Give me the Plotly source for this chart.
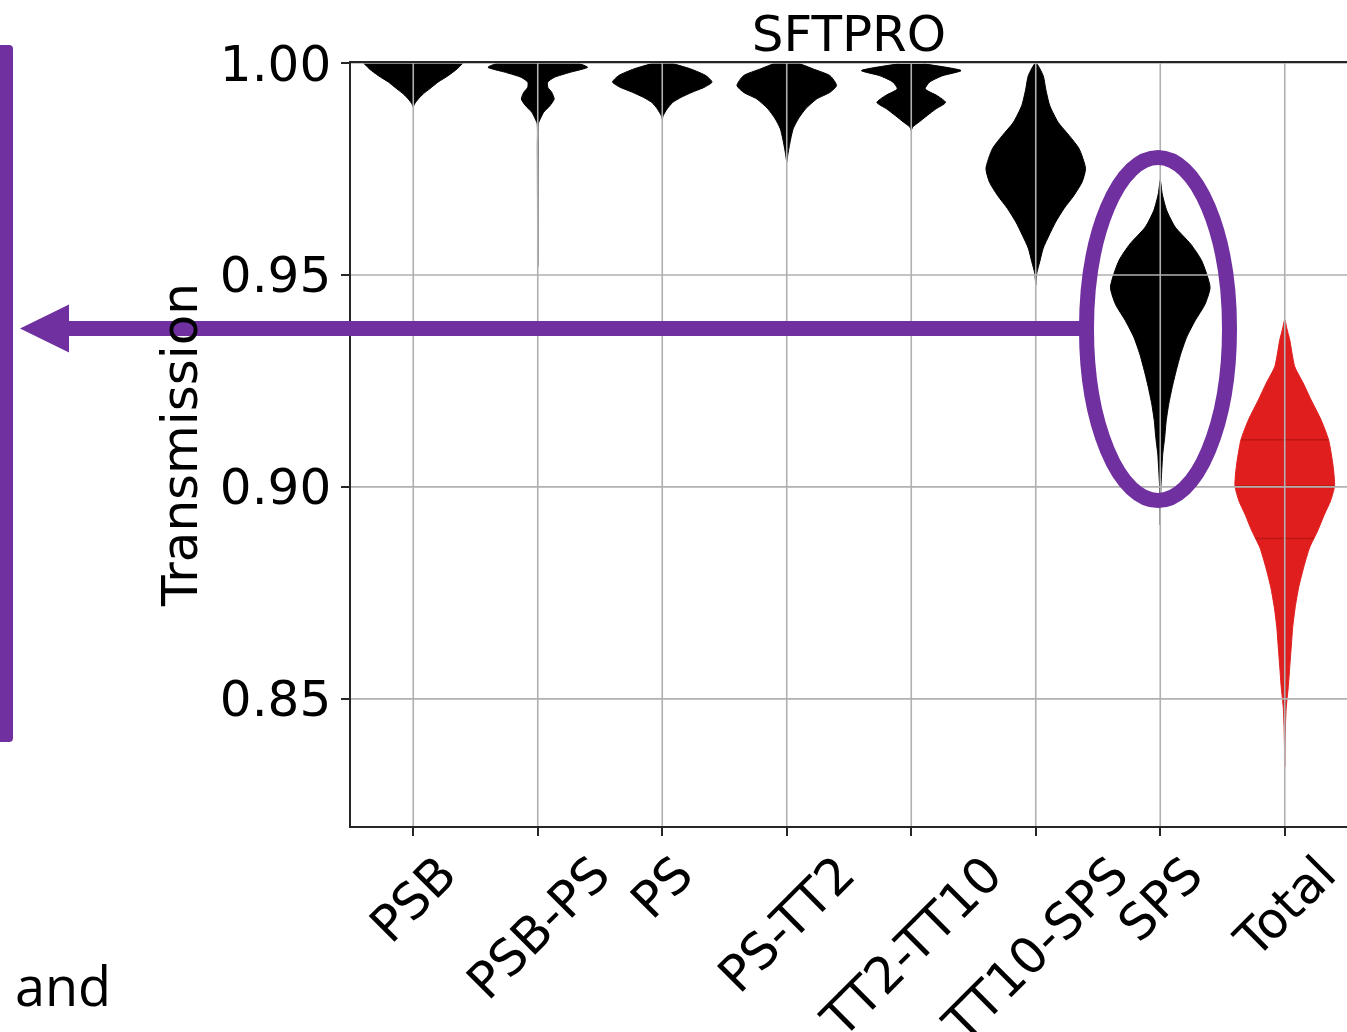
import numpy as np
import plotly.graph_objects as go

# ---------------- data ----------------
categories = ["PSB", "PSB-PS", "PS", "PS-TT2", "TT2-TT10", "TT10-SPS", "SPS", "Total"]

# violin profiles: transmission levels and relative density (1 = widest)
psb_y = [1.0, 0.9986, 0.9970, 0.9955, 0.9939, 0.9927, 0.9915, 0.9904, 0.9896]
psb_w = [1.0, 0.88, 0.70, 0.50, 0.33, 0.20, 0.10, 0.03, 0.0]

psbps_y = [1.0, 0.9990, 0.9978, 0.9966, 0.9955, 0.9943, 0.9931, 0.9915, 0.9900,
           0.9884, 0.9868, 0.9857, 0.9800, 0.9700, 0.9600, 0.9520]
psbps_w = [0.80, 1.0, 0.65, 0.33, 0.20, 0.20, 0.28, 0.33, 0.25,
           0.12, 0.05, 0.012, 0.008, 0.006, 0.004, 0.0]

ps_y = [1.0, 0.9986, 0.9970, 0.9955, 0.9943, 0.9931, 0.9919, 0.9907, 0.9892, 0.9876, 0.9868]
ps_w = [0.17, 0.57, 0.88, 1.0, 0.85, 0.60, 0.38, 0.21, 0.10, 0.02, 0.0]

pstt2_y = [1.0, 0.9986, 0.9970, 0.9947, 0.9931, 0.9915, 0.9892, 0.9868, 0.9845, 0.9821, 0.9790, 0.9766]
pstt2_w = [0.23, 0.53, 0.87, 1.0, 0.87, 0.60, 0.38, 0.23, 0.13, 0.08, 0.03, 0.0]

tt2tt10_y = [0.9998, 0.9982, 0.9970, 0.9955, 0.9939, 0.9923, 0.9907, 0.9892, 0.9876, 0.9860, 0.9849, 0.9841]
tt2tt10_w = [0.25, 1.0, 0.63, 0.37, 0.28, 0.52, 0.69, 0.50, 0.32, 0.15, 0.03, 0.0]

tt10sps_y = [1.0, 0.9970, 0.9939, 0.9900, 0.9860, 0.9829, 0.9798, 0.9751, 0.9719, 0.9688,
             0.9657, 0.9625, 0.9594, 0.9563, 0.9531, 0.9504, 0.9476]
tt10sps_w = [0.0, 0.15, 0.20, 0.28, 0.45, 0.67, 0.87, 1.0, 0.93, 0.77,
             0.57, 0.40, 0.27, 0.15, 0.08, 0.02, 0.0]

sps_y = [0.9723, 0.9691, 0.9652, 0.9613, 0.9573, 0.9534, 0.9471, 0.9431, 0.9392, 0.9353,
         0.9313, 0.9274, 0.9235, 0.9195, 0.9156, 0.9117, 0.9077, 0.9038, 0.8998, 0.8950, 0.8910]
sps_w = [0.0, 0.04, 0.13, 0.30, 0.61, 0.83, 1.0, 0.90, 0.70, 0.53,
         0.41, 0.32, 0.24, 0.17, 0.12, 0.09, 0.05, 0.03, 0.012, 0.006, 0.0]

total_y = [0.9394, 0.9370, 0.9347, 0.9284, 0.9245, 0.9205, 0.9158, 0.9111, 0.9050, 0.9002,
           0.8967, 0.8936, 0.8896, 0.8857, 0.8810, 0.8763, 0.8716, 0.8669, 0.8622, 0.8575,
           0.8527, 0.8480, 0.8433, 0.8386, 0.8340]
total_w = [0.0, 0.05, 0.10, 0.20, 0.37, 0.53, 0.73, 0.88, 0.97, 1.0,
           0.92, 0.80, 0.66, 0.50, 0.38, 0.28, 0.21, 0.16, 0.13, 0.10,
           0.07, 0.03, 0.013, 0.005, 0.0]
total_quartiles = [0.8878, 0.9002, 0.9111]

y_ticks = [0.85, 0.90, 0.95, 1.00]

profiles = [(psb_y, psb_w), (psbps_y, psbps_w), (ps_y, ps_w), (pstt2_y, pstt2_w),
            (tt2tt10_y, tt2tt10_w), (tt10sps_y, tt10sps_w), (sps_y, sps_w), (total_y, total_w)]

# ---------------- styling ----------------
W, H = 1347, 1032
HALF = 0.4                 # max half width of a violin, in category units
PURPLE = "#7030A0"
RED = "#E01E1E"
FONT = "DejaVu Sans"


def px(x):
    return x / W


def py(y):
    return 1 - y / H


fig = go.Figure()

for i, (ys, ws) in enumerate(profiles):
    ys = np.asarray(ys, dtype=float)
    ws = np.asarray(ws, dtype=float) * HALF
    xs = np.concatenate([i - ws, (i + ws)[::-1]])
    yy = np.concatenate([ys, ys[::-1]])
    color = RED if categories[i] == "Total" else "black"
    fig.add_trace(go.Scatter(
        x=xs, y=yy, mode="lines", fill="toself", fillcolor=color,
        line=dict(color=color, width=1, shape="spline", smoothing=0.6),
        hoverinfo="skip", showlegend=False,
    ))

# quartile lines of the Total violin
ti = categories.index("Total")
ty = np.asarray(total_y)[::-1]
tw = np.asarray(total_w)[::-1]
for q in total_quartiles:
    hw = np.interp(q, ty, tw) * HALF
    fig.add_trace(go.Scatter(
        x=[ti - hw, ti + hw], y=[q, q], mode="lines",
        line=dict(color="rgba(110,0,0,0.3)", width=1.5),
        hoverinfo="skip", showlegend=False,
    ))

shapes = []
# grid lines on top of the violins
for i in range(len(categories)):
    shapes.append(dict(type="line", xref="x", yref="y domain", x0=i, x1=i, y0=0, y1=1,
                       line=dict(color="#b0b0b0", width=1.6), layer="above"))
for t in y_ticks:
    shapes.append(dict(type="line", xref="x domain", yref="y", x0=0, x1=1, y0=t, y1=t,
                       line=dict(color="#b0b0b0", width=1.6), layer="above"))

# purple vertical bar at left (rounded corners)
bx0, bx1, by0, by1, r = 0, 13, 45, 742, 4
bar_path = (f"M {px(bx0)},{py(by0)} L {px(bx1 - r)},{py(by0)} "
            f"Q {px(bx1)},{py(by0)} {px(bx1)},{py(by0 + r)} "
            f"L {px(bx1)},{py(by1 - r)} Q {px(bx1)},{py(by1)} {px(bx1 - r)},{py(by1)} "
            f"L {px(bx0)},{py(by1)} Z")
shapes.append(dict(type="path", xref="paper", yref="paper", path=bar_path,
                   fillcolor=PURPLE, line=dict(width=0), layer="above"))

# arrow shaft and head
ay = 328.5
shapes.append(dict(type="line", xref="paper", yref="paper", x0=px(62), x1=px(1084),
                   y0=py(ay), y1=py(ay), line=dict(color=PURPLE, width=15), layer="above"))
head = (f"M {px(20)},{py(ay)} L {px(69)},{py(ay - 24)} L {px(69)},{py(ay + 24)} Z")
shapes.append(dict(type="path", xref="paper", yref="paper", path=head,
                   fillcolor=PURPLE, line=dict(width=0), layer="above"))

# ellipse around SPS
shapes.append(dict(type="circle", xref="paper", yref="paper",
                   x0=px(1086.5), x1=px(1229.5), y0=py(157.5), y1=py(500.5),
                   line=dict(color=PURPLE, width=15), fillcolor="rgba(0,0,0,0)", layer="above"))

annotations = []
for i, c in enumerate(categories):
    annotations.append(dict(x=i, xref="x", y=py(842), yref="paper", text=c,
                            showarrow=False, textangle=-45, xanchor="center", yanchor="top",
                            font=dict(family=FONT, size=50, color="black")))
annotations.append(dict(x=px(13), y=py(985), xref="paper", yref="paper", text="and",
                        showarrow=False, xanchor="left", yanchor="middle",
                        font=dict(family="Open Sans", size=54, color="black")))

fig.update_layout(
    width=W, height=H,
    margin=dict(l=0, r=0, t=0, b=0, autoexpand=False),
    paper_bgcolor="white", plot_bgcolor="white",
    title=dict(text="SFTPRO", x=px(849), xref="paper", xanchor="center",
               y=py(33), yref="container", yanchor="middle",
               font=dict(family=FONT, size=50, color="black")),
    xaxis=dict(domain=[px(351), 1.0], range=[-0.5, 7.5], tickvals=list(range(len(categories))),
               showticklabels=False, showgrid=False, zeroline=False, automargin=False,
               showline=True, linecolor="#262626", linewidth=1.6, mirror=True,
               ticks="outside", ticklen=8, tickwidth=1.6, tickcolor="#262626"),
    yaxis=dict(domain=[py(826), py(63)], range=[0.82, 1.0], tickvals=y_ticks,
               tickformat=".2f", showgrid=False, zeroline=False, automargin=False,
               showline=True, linecolor="#262626", linewidth=1.6,
               ticks="outside", ticklen=8, tickwidth=1.6, tickcolor="#262626",
               ticklabelstandoff=0,
               tickfont=dict(family=FONT, size=50, color="black"),
               title=dict(text="Transmission", standoff=6,
                          font=dict(family=FONT, size=50, color="black"))),
    shapes=shapes,
    annotations=annotations,
)

fig.write_html("out.html")
